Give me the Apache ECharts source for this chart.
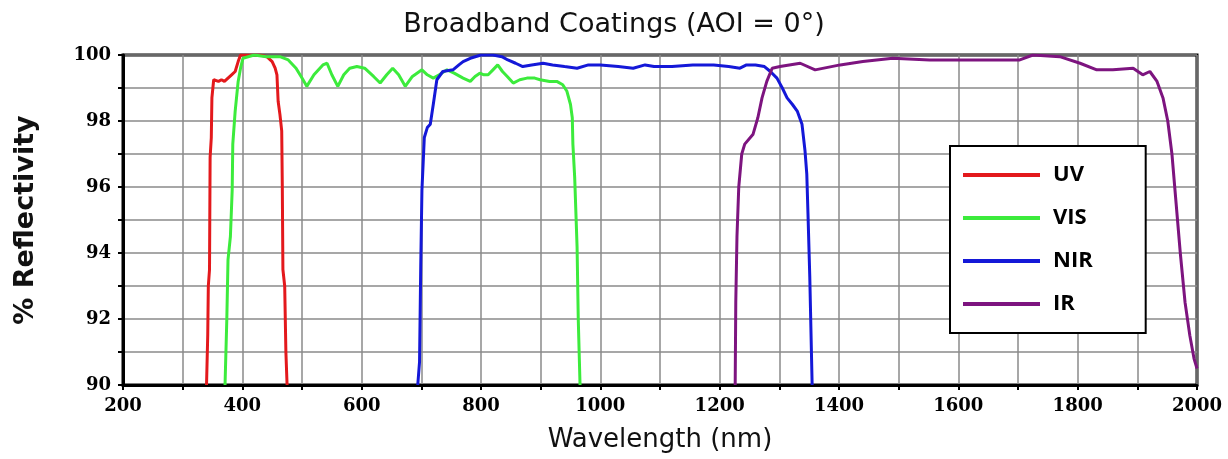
<!DOCTYPE html>
<html>
<head>
<meta charset="utf-8">
<script src="https://cdn.jsdelivr.net/npm/echarts@6/dist/echarts.min.js"></script>
<style>
  html, body { margin: 0; padding: 0; background: #fff; }
  #chart { width: 1228px; height: 459px; }
</style>
</head>
<body>
<div id="chart"></div>
<script>
// 数据 [波长 nm, 反射率 %]
const uvData = [
    [340, 90], [342, 91.5], [343, 93], [345, 93.5], [346, 96.9], [348, 97.5], [349, 98.7],
    [352, 99.25], [360, 99.2], [365, 99.25], [370, 99.2], [376, 99.3], [382, 99.4],
    [388, 99.5], [393, 99.8], [397, 100], [410, 100], [430, 100], [441, 99.95],
    [450, 99.8], [455, 99.6], [458, 99.4], [460, 98.6], [463, 98.2], [466, 97.7],
    [467, 96], [468, 93.5], [471, 93], [473, 91], [475, 90]
];

const visData = [
    [371, 90], [374, 92], [376, 93.8], [380, 94.5], [383, 95.9], [384, 97.3], [388, 98.3],
    [393, 99.2], [397, 99.6], [401, 99.9], [420, 100], [440, 99.95], [463, 99.95],
    [477, 99.85], [490, 99.6], [500, 99.3], [508, 99.05], [520, 99.4], [535, 99.7],
    [542, 99.75], [550, 99.4], [560, 99.05], [570, 99.4], [580, 99.6], [592, 99.65],
    [605, 99.6], [620, 99.35], [631, 99.15], [642, 99.4], [652, 99.6], [662, 99.4],
    [673, 99.05], [685, 99.35], [701, 99.55], [710, 99.4], [720, 99.3], [730, 99.4],
    [743, 99.55], [755, 99.45], [770, 99.3], [782, 99.2], [790, 99.35], [798, 99.45],
    [805, 99.4], [812, 99.4], [820, 99.55], [828, 99.7], [836, 99.5], [844, 99.35],
    [854, 99.15], [865, 99.25], [877, 99.3], [890, 99.3], [899, 99.25], [915, 99.2],
    [927, 99.2], [937, 99.1], [944, 98.9], [950, 98.5], [953, 98.1], [954, 97.3],
    [957, 96.3], [961, 94.2], [963, 92], [966, 90]
];

const nirData = [
    [694, 90], [697, 90.7], [699, 93.6], [701, 95.9], [705, 97.5], [710, 97.8], [715, 97.9],
    [720, 98.5], [726, 99.25], [736, 99.5], [753, 99.55], [763, 99.7], [770, 99.8],
    [782, 99.9], [800, 100], [820, 100], [835, 99.95], [845, 99.85], [858, 99.75],
    [870, 99.65], [885, 99.7], [904, 99.75], [920, 99.7], [940, 99.65], [961, 99.6],
    [980, 99.7], [1000, 99.7], [1030, 99.65], [1055, 99.6], [1075, 99.7], [1090, 99.65],
    [1120, 99.65], [1155, 99.7], [1190, 99.7], [1215, 99.65], [1234, 99.6], [1245, 99.7],
    [1260, 99.7], [1275, 99.65], [1285, 99.5], [1296, 99.3], [1305, 99], [1313, 98.7],
    [1322, 98.5], [1330, 98.3], [1338, 97.9], [1343, 97.1], [1346, 96.4], [1348, 95.2],
    [1351, 93.3], [1355, 90]
];

const irData = [
    [1226, 90], [1227, 92.5], [1229, 94.5], [1232, 96], [1237, 97], [1242, 97.3],
    [1256, 97.6], [1264, 98.1], [1271, 98.7], [1279, 99.2], [1288, 99.6], [1301, 99.65],
    [1335, 99.75], [1360, 99.55], [1402, 99.7], [1440, 99.8], [1490, 99.9], [1552, 99.85],
    [1614, 99.85], [1703, 99.85], [1725, 100], [1770, 99.95], [1804, 99.75], [1832, 99.55],
    [1859, 99.55], [1893, 99.6], [1909, 99.4], [1921, 99.5], [1933, 99.2], [1943, 98.7],
    [1951, 98], [1958, 97], [1965, 95.5], [1972, 94], [1980, 92.5], [1988, 91.5],
    [1995, 90.8], [2000, 90.5]
];

const seriesNames = ['UV', 'VIS', 'NIR', 'IR'];
const seriesColors = ['#e3191c', '#3ceb3c', '#1418d8', '#7d147f'];

const chart = echarts.init(document.getElementById('chart'));

function makeSeries(name, data, color) {
    return {
        name: name,
        type: 'line',
        data: data,
        showSymbol: false,
        symbol: 'none',
        lineStyle: { color: color, width: 3 },
        itemStyle: { color: color }
    };
}

const option = {
    backgroundColor: '#fff',
    animation: false,
    title: {
        text: 'Broadband Coatings (AOI = 0°)',
        left: 'center',
        top: 6,
        textStyle: {
            fontFamily: 'DejaVu Sans',
            fontSize: 27,
            fontWeight: 'normal',
            color: '#111'
        }
    },
    grid: {
        left: 123,
        right: 31,
        top: 55,
        bottom: 74,
        show: true,
        borderColor: '#000',
        borderWidth: 3
    },
    legend: {
        orient: 'vertical',
        left: 950,
        top: 146,
        data: seriesNames,
        icon: 'rect',
        itemWidth: 77,
        itemHeight: 4,
        itemGap: 21,
        padding: [18, 53, 18, 13],
        backgroundColor: '#fff',
        borderColor: '#000',
        borderWidth: 2,
        textStyle: {
            fontFamily: 'Open Sans',
            fontWeight: 'bold',
            fontSize: 22,
            lineHeight: 22,
            color: '#000',
            padding: [0, 0, 0, 8]
        }
    },
    xAxis: {
        type: 'value',
        min: 200,
        max: 2000,
        interval: 100,
        name: 'Wavelength (nm)',
        nameLocation: 'middle',
        nameGap: 42,
        nameTextStyle: {
            fontFamily: 'DejaVu Sans',
            fontSize: 26,
            color: '#111'
        },
        axisLine: { lineStyle: { color: '#000', width: 3 } },
        axisTick: { show: true, length: 5, lineStyle: { color: '#000', width: 2 } },
        axisLabel: {
            margin: 12,
            fontFamily: 'DejaVu Serif',
            fontWeight: 'bold',
            fontSize: 18,
            color: '#000',
            formatter: (v) => (v % 200 === 0 ? String(v) : '')
        },
        splitLine: { show: true, lineStyle: { color: '#8a8a8a', width: 1.5 } }
    },
    yAxis: {
        type: 'value',
        min: 90,
        max: 100,
        interval: 1,
        name: '% Reflectivity',
        nameLocation: 'middle',
        nameRotate: 90,
        nameGap: 84,
        nameTextStyle: {
            fontFamily: 'DejaVu Sans',
            fontWeight: 'bold',
            fontSize: 27,
            color: '#111'
        },
        axisLine: { show: true, lineStyle: { color: '#000', width: 3 } },
        axisTick: { show: true, length: 5, lineStyle: { color: '#000', width: 2 } },
        axisLabel: {
            margin: 12,
            fontFamily: 'DejaVu Serif',
            fontWeight: 'bold',
            fontSize: 18,
            color: '#000',
            formatter: (v) => (v % 2 === 0 ? String(v) : '')
        },
        splitLine: { show: true, lineStyle: { color: '#8a8a8a', width: 1.5 } }
    },
    series: [
        makeSeries(seriesNames[0], uvData, seriesColors[0]),
        makeSeries(seriesNames[1], visData, seriesColors[1]),
        makeSeries(seriesNames[2], nirData, seriesColors[2]),
        makeSeries(seriesNames[3], irData, seriesColors[3])
    ]
};

chart.setOption(option);
</script>
</body>
</html>
